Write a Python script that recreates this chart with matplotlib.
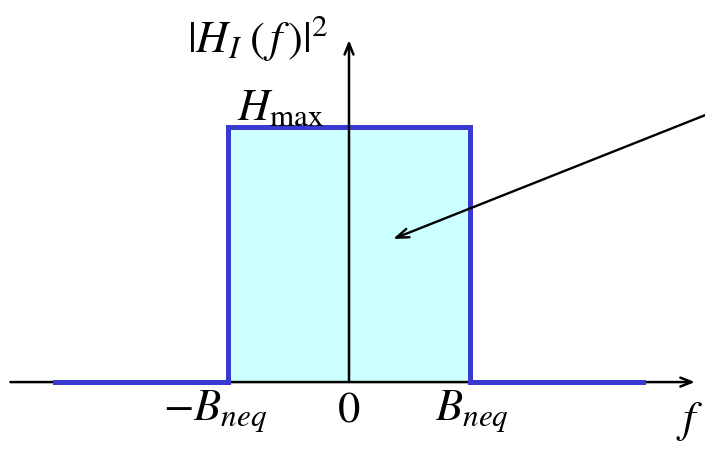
import matplotlib
matplotlib.use("Agg")
import matplotlib.pyplot as plt

# Data (frequency in units of B_neq, magnitude in units of H_max)
f_outline = [-2.44, -1.0, -1.0, 1.0, 1.0, 2.44]
h_outline = [0.0, 0.0, 1.0, 1.0, 0.0, 0.0]
f_band = [-1.0, 1.0]
h_band = [1.0, 1.0]
tick_pos = [-1.0, 0.0, 1.0]
tick_labels = [r"$-B_{neq}$", r"$0$", r"$B_{neq}$"]
tick_shift_px = [-13, 0, 2]

plt.rcParams["mathtext.fontset"] = "stix"
plt.rcParams["font.family"] = ["STIXGeneral", "DejaVu Serif"]

fig = plt.figure(figsize=(7.05, 4.54), dpi=100)
ax = fig.add_axes([0, 0, 1, 1])
ax.set_xlim(-2.896, 2.954)
ax.set_ylim(-0.282, 1.498)
ax.axis("off")

blue = "#3a3ad0"
# filled band
ax.fill_between(f_band, [0, 0], h_band, color="#ccffff", zorder=1, lw=0)

# horizontal axis
ax.annotate("", xy=(2.87, 0), xytext=(-2.81, 0),
            arrowprops=dict(arrowstyle="->,head_length=0.8,head_width=0.32",
                            lw=1.8, color="black", shrinkA=0, shrinkB=0),
            zorder=2)
# outline
ax.plot(f_outline, h_outline, color=blue, lw=3.6, zorder=3,
        solid_joinstyle="miter")
# vertical axis
ax.annotate("", xy=(0, 1.341), xytext=(0, 0),
            arrowprops=dict(arrowstyle="->,head_length=0.8,head_width=0.32",
                            lw=1.8, color="black", shrinkA=0, shrinkB=0),
            zorder=4)

# pointer arrow
ax.annotate("", xy=(0.365, 0.561), xytext=(3.08, 1.07),
            arrowprops=dict(arrowstyle="->,head_length=0.9,head_width=0.32",
                            lw=1.7, color="black", shrinkA=0, shrinkB=0),
            zorder=5, annotation_clip=False)

fs = 32
ax.text(-0.76, 1.35, r"$|H_{I}\;(\,f\,)|^{2}$", fontsize=fs, ha="center", va="center")
ax.text(-0.93, 1.07, r"$H_{\mathrm{max}}$", fontsize=fs, ha="left", va="center")
for p, lab, dx in zip(tick_pos, tick_labels, tick_shift_px):
    ax.annotate(lab, xy=(p, -0.115), xytext=(dx * 0.72, 0),
                textcoords="offset points", fontsize=fs,
                ha="center", va="center")
ax.text(2.71, -0.155, r"$f$", fontsize=fs, ha="left", va="center")

fig.savefig("out.png", dpi=100)
